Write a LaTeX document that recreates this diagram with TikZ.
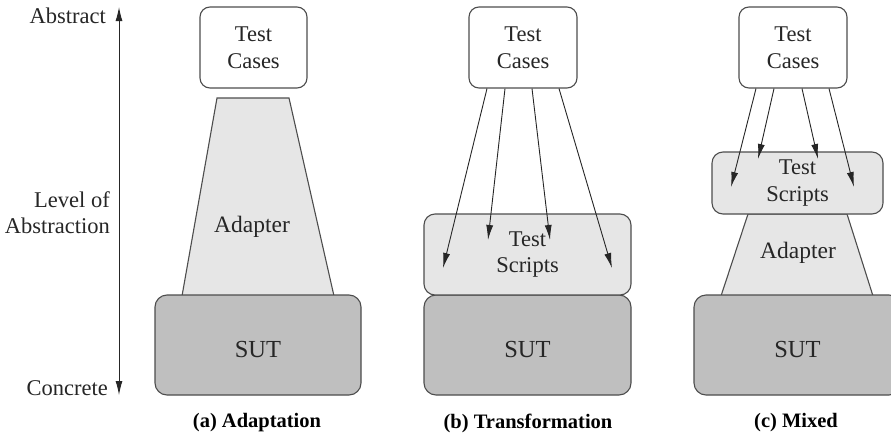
\documentclass[tikz,border=0pt]{standalone}
\usepackage{fontspec}
\setmainfont{Liberation Serif}
\newfontfamily\tnr{Liberation Serif}
\usetikzlibrary{arrows.meta}
\definecolor{edge}{HTML}{4D4D4D}
\definecolor{lightfill}{HTML}{E6E6E6}
\definecolor{sutfill}{HTML}{BFBFBF}
\begin{document}
\begin{tikzpicture}[x=1pt,y=-1pt,
  txt/.style={font=\tnr\fontsize{22.5}{26.5}\selectfont, text=black!85, inner sep=0pt, align=center},
  casebox/.style={txt, draw=edge, line width=1.1pt, fill=white, rounded corners=10pt},
  scriptbox/.style={txt, draw=edge, line width=1.1pt, fill=lightfill, rounded corners=11pt},
  sutbox/.style={draw=edge, line width=1.1pt, fill=sutfill, rounded corners=12pt,
    label={[txt, font=\tnr\fontsize{24.5}{28}\selectfont, yshift=-5pt]center:SUT}},
  adapt/.style={draw=edge, line width=1.1pt, fill=lightfill},
  captxt/.style={font=\tnr\fontsize{20.5}{24}\selectfont\bfseries, inner sep=0pt},
  arr/.style={draw=black!85, line width=0.9pt, -{Latex[length=15pt,width=7pt]}},
  axis/.style={draw=black!85, line width=1pt, {Latex[length=14pt,width=7pt]}-{Latex[length=14pt,width=7pt]}}
]
\clip (0,0) rectangle (891,439);
\fill[white] (0,0) rectangle (891,439);

% ---------- axis ----------
\coordinate (axtop) at (119,7);
\coordinate (axbot) at (119,395);
\draw[axis] (axbot) -- (axtop);
\node[txt, anchor=east] (abstract) at (106,16) {Abstract};
\node[txt, anchor=east, align=right] (level) at (110,212.5) {Level of\\Abstraction};
\node[txt, anchor=east] (concrete) at (108,388) {Concrete};

% ---------- (a) Adaptation ----------
\draw[adapt] (217,98) -- (289,98) -- (334,296) -- (182,296) -- cycle;
\node[txt, font=\tnr\fontsize{23.5}{26.5}\selectfont] (adaptA) at (252,227) {Adapter};
\node[sutbox, minimum width=206pt, minimum height=100pt] (sutA) at (258,345) {};
\node[casebox, minimum width=107pt, minimum height=81pt] (tcA) at (253.5,47.5) {Test\\Cases};
\node[captxt] (capA) at (257,423) {(a) Adaptation};

% ---------- (b) Transformation ----------
\node[sutbox, minimum width=207pt, minimum height=100pt] (sutB) at (527.5,345) {};
\node[scriptbox, minimum width=207pt, minimum height=81pt] (tsB) at (527.5,254.5) {Test\\Scripts};
\node[casebox, minimum width=108pt, minimum height=81pt] (tcB) at (523,47.5) {Test\\Cases};
\coordinate (b1) at (443,268);
\coordinate (b2) at (488,240);
\coordinate (b3) at (550,240);
\coordinate (b4) at (612,268);
\draw[arr] (tcB.south -| 487,0) -- (b1);
\draw[arr] (tcB.south -| 505,0) -- (b2);
\draw[arr] (tcB.south -| 532,0) -- (b3);
\draw[arr] (tcB.south -| 559,0) -- (b4);
\node[captxt] (capB) at (528,423) {(b) Transformation};

% ---------- (c) Mixed ----------
\draw[adapt] (748,214) -- (847,214) -- (873,296) -- (721,296) -- cycle;
\node[txt, font=\tnr\fontsize{23.5}{26.5}\selectfont] (adaptC) at (798,253) {Adapter};
\node[sutbox, minimum width=207pt, minimum height=100pt] (sutC) at (797.5,345) {};
\node[scriptbox, minimum width=171pt, minimum height=62pt] (tsC) at (797.5,183) {Test\\Scripts};
\node[casebox, minimum width=108pt, minimum height=81pt] (tcC) at (793,47.5) {Test\\Cases};
\coordinate (c1) at (731,187);
\coordinate (c2) at (758,159);
\coordinate (c3) at (818,159);
\coordinate (c4) at (854,187);
\draw[arr] (tcC.south -| 756,0) -- (c1);
\draw[arr] (tcC.south -| 774,0) -- (c2);
\draw[arr] (tcC.south -| 802,0) -- (c3);
\draw[arr] (tcC.south -| 829,0) -- (c4);
\node[captxt] (capC) at (796,423) {(c) Mixed};
\end{tikzpicture}
\end{document}
